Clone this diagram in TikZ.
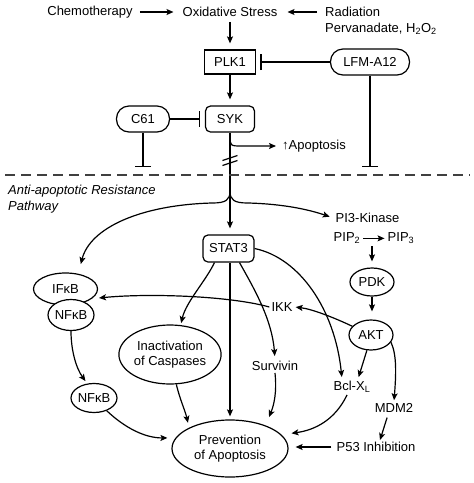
\documentclass[tikz,border=0pt]{standalone}
\usepackage{fontspec}
\setmainfont{Liberation Sans}
\usetikzlibrary{arrows.meta,shapes.geometric}
\begin{document}
\begin{tikzpicture}[x=1pt,y=-1pt,
  every node/.style={font=\fontsize{13}{15}\selectfont, inner sep=2pt},
  lw/.style={line width=1.2pt},
  arr/.style={lw,-{Stealth[length=7pt,width=6pt,inset=1.5pt]}},
  inh/.style={lw,-{Bar[width=16pt,line width=1.4pt]}},
  boxnode/.style={draw,lw,minimum width=51pt,minimum height=25pt},
  rbox/.style={boxnode,rounded corners=5pt},
  pill/.style={draw,lw,rounded corners=12.5pt,minimum height=26pt},
  ell/.style={draw,lw,ellipse,inner sep=0pt,fill=white,align=center},
  dashline/.style={line width=1.2pt,black!75,dash pattern=on 10pt off 6pt},
]
\useasboundingbox (0,0) rectangle (474,483);

% top
\node (chemo) at (90,12) {Chemotherapy};
\node (ox) at (230,12) {Oxidative Stress};
\node[anchor=west] (rad) at (323,12) {Radiation};
\node[anchor=west] (perv) at (323,29) {Pervanadate, H\textsubscript{2}O\textsubscript{2}};

\node[boxnode,minimum width=51pt,minimum height=24pt] (plk) at (230,62) {PLK1};
\node[pill,minimum width=79pt] (lfm) at (370,62) {LFM-A12};
\node[rbox,minimum width=49pt,minimum height=26pt] (syk) at (230,119) {SYK};
\node[pill,minimum width=53pt] (c61) at (143,119) {C61};
\node[anchor=west] (apo) at (280,146) {↑Apoptosis};

\node[font=\fontsize{13}{15}\selectfont\itshape,anchor=west] (anti1) at (6,191) {Anti-apoptotic Resistance};
\node[font=\fontsize{13}{15}\selectfont\itshape,anchor=west] (anti2) at (6,207) {Pathway};

% lower
\node[rbox,minimum width=51pt,minimum height=27pt] (stat3) at (228.5,248.5) {STAT3};
\node (pi3) at (367.5,218) {PI3-Kinase};
\node[anchor=base] (pip2) at (347,241) {PIP\textsubscript{2}};
\node[anchor=base] (pip3) at (401,241) {PIP\textsubscript{3}};
\node[ell,minimum width=44pt,minimum height=28pt] (pdk) at (372,282) {PDK};
\node[ell,minimum width=44pt,minimum height=30pt] (akt) at (371,335) {AKT};
\node[ell,minimum width=64pt,minimum height=32pt] (ifkb) at (65.5,289) {IFκB};
\node[ell,minimum width=46pt,minimum height=31pt] (nfkb1) at (71,315) {NFκB};
\node (ikk) at (282,307) {IKK};
\node[ell,minimum width=94pt,minimum height=59pt] (inact) at (170,354.5) {Inactivation\\of Caspases};
\node (surv) at (275,366) {Survivin};
\node (bcl) at (352,387) {Bcl-X\textsubscript{L}};
\node (mdm2) at (394,408) {MDM2};
\node[ell,minimum width=45pt,minimum height=29pt] (nfkb2) at (94,398) {NFκB};
\node[ell,minimum width=116pt,minimum height=57pt] (prev) at (230,448.5) {Prevention\\of Apoptosis};
\node (p53) at (376,447) {P53 Inhibition};

% top connectors
\draw[arr,shorten <=5pt,shorten >=7pt] (chemo) -- (ox);
\draw[arr,shorten <=6pt,shorten >=8pt] (rad) -- (ox);
\draw[arr,shorten <=3pt,shorten >=6pt] (ox) -- (plk);
\draw[arr,shorten >=6pt] (plk) -- (syk);
\draw[inh,shorten >=4pt] (lfm) -- (plk);
\draw[inh,shorten >=5pt] (c61) -- (syk);
\coordinate (c61end) at (143,167);
\coordinate (lfmend) at (370,167);
\draw[inh] (c61) -- (c61end);
\draw[inh] (lfm) -- (lfmend);

\coordinate (br) at (230,191);
\draw[lw] (syk) -- (br);
\coordinate (apostart) at (230,135);
\draw[arr,shorten >=4pt] (apostart) .. controls (230,146) .. (242,146) -- (apo.west);
\coordinate (brk) at (230,161);
\draw[lw] ([shift={(-7.5,-0.5)}]brk) -- ([shift={(7.5,-5.5)}]brk);
\draw[lw] ([shift={(-7.5,4.5)}]brk) -- ([shift={(7.5,-0.5)}]brk);

\coordinate (dl) at (5,175);
\coordinate (dr) at (470,175);
\draw[dashline] (dl) -- (dr);

% branches
\draw[arr,shorten >=10pt] (br) .. controls (230,200) and (226,203) .. (212,203)
   .. controls (140,205) and (90,228) .. (ifkb.50);
\draw[arr,shorten >=4pt] (br) .. controls (230,200) and (234,203) .. (248,203)
   .. controls (285,204) and (310,210) .. (pi3.west);
\draw[arr,shorten >=6pt] (br) -- (br |- stat3.north);

\draw[arr,shorten <=1pt,shorten >=1pt] (pip2.mid east) -- (pip3.mid west);
\draw[arr,shorten <=1pt,shorten >=6pt] (pdk.north |- pip2.south) -- (pdk.north);
\draw[arr,shorten >=8pt] (pdk.south) -- (pdk.south |- akt.north);

% from STAT3
\draw[arr,shorten >=2pt] ([xshift=-14pt]stat3.south) .. controls (205,282) and (186,302) .. (inact.70);
\draw[arr,shorten >=3pt] (prev.north |- stat3.south) -- (prev.north);
\draw[arr,shorten >=3pt] ([xshift=11pt]stat3.south) .. controls (255,290) and (272,320) .. (surv.north);
\draw[arr,shorten >=2pt] (stat3.east) .. controls (300,258) and (335,310) .. ([xshift=-10pt]bcl.north);

% AKT side
\draw[arr,shorten >=1pt] (akt.155) .. controls (335,318) and (312,309) .. (ikk.east);
\draw[arr,shorten >=7pt] (ikk.west) .. controls (230,296) and (150,293) .. (ifkb.-20);
\draw[arr,shorten >=2pt] (akt.-105) -- ([xshift=6pt]bcl.north);
\draw[arr,shorten >=1pt] (akt.-20) .. controls (397,355) and (396,375) .. (mdm2.north);
\draw[arr,shorten <=3pt] ([xshift=-6pt]mdm2.south) -- ([xshift=4pt]p53.north);
\draw[arr,shorten <=3pt,shorten >=7pt] (p53.west) -- (p53.west -| prev.east);

% to prevention
\draw[arr,shorten >=3pt] (nfkb1.south) .. controls (71,350) and (76,368) .. (nfkb2.115);
\draw[arr,shorten >=8pt] (nfkb2.-45) .. controls (125,428) and (145,438) .. (prev.169);
\draw[arr,shorten >=5pt] (inact.-78) .. controls (180,400) and (185,410) .. (prev.153);
\draw[arr,shorten >=9pt] (surv.south) .. controls (277,392) and (274,405) .. (prev.33);
\draw[arr,shorten >=10pt] ([xshift=-5pt]bcl.south) .. controls (335,420) and (315,430) .. (prev.15);
\end{tikzpicture}
\end{document}
